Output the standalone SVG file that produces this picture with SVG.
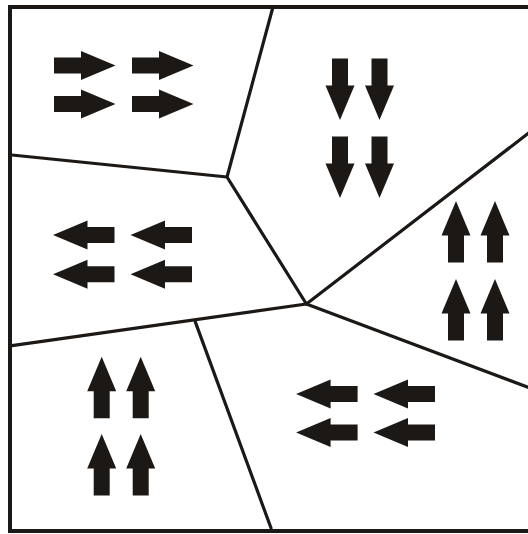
<svg xmlns="http://www.w3.org/2000/svg" xmlns:xlink="http://www.w3.org/1999/xlink" width="528" height="534" viewBox="0 0 528 534">
<style>
.wall{fill:none;stroke:#1c1816;stroke-width:3.2;stroke-linecap:round;stroke-linejoin:round}
.border{fill:none;stroke:#1c1816;stroke-width:4}
.arr{fill:#1c1816}
</style>
<defs>
<path id="a" d="M0,-8 H27 V-14.5 L61.5,0 L27,14.5 V8 H0 Z"/>
</defs>
<rect width="528" height="534" fill="#fff"/>
<g id="connectors">
<path class="border" d="M530,7 H10 V531 H530"/>
<path class="wall" d="M272.7,8 L227,177 L12,155"/>
<path class="wall" d="M227,177 L306.4,304 L530,132"/>
<path class="wall" d="M306.4,304 L530,388"/>
<path class="wall" d="M306.4,304 L12,345.7"/>
<path class="wall" d="M195.3,321.9 L271,528"/>
</g>
<g id="domain-top-left" class="arr">
<use xlink:href="#a" transform="translate(54,65.4)"/>
<use xlink:href="#a" transform="translate(132,65.4)"/>
<use xlink:href="#a" transform="translate(54,103.9)"/>
<use xlink:href="#a" transform="translate(132,103.9)"/>
</g>
<g id="domain-top-middle" class="arr">
<use xlink:href="#a" transform="translate(340,58.5) rotate(90)"/>
<use xlink:href="#a" transform="translate(379.5,58.5) rotate(90)"/>
<use xlink:href="#a" transform="translate(340,136.5) rotate(90)"/>
<use xlink:href="#a" transform="translate(379.5,136.5) rotate(90)"/>
</g>
<g id="domain-middle-left" class="arr">
<use xlink:href="#a" transform="translate(114.5,235) rotate(180)"/>
<use xlink:href="#a" transform="translate(192,235) rotate(180)"/>
<use xlink:href="#a" transform="translate(114.5,274.2) rotate(180)"/>
<use xlink:href="#a" transform="translate(192,274.2) rotate(180)"/>
</g>
<g id="domain-right" class="arr">
<use xlink:href="#a" transform="translate(456,262.5) rotate(-90)"/>
<use xlink:href="#a" transform="translate(495,262.5) rotate(-90)"/>
<use xlink:href="#a" transform="translate(456,340.6) rotate(-90)"/>
<use xlink:href="#a" transform="translate(495,340.6) rotate(-90)"/>
</g>
<g id="domain-bottom-left" class="arr">
<use xlink:href="#a" transform="translate(101.7,418.3) rotate(-90)"/>
<use xlink:href="#a" transform="translate(140.7,418.3) rotate(-90)"/>
<use xlink:href="#a" transform="translate(101.7,495.6) rotate(-90)"/>
<use xlink:href="#a" transform="translate(140.7,495.6) rotate(-90)"/>
</g>
<g id="domain-bottom-right" class="arr">
<use xlink:href="#a" transform="translate(357.6,394) rotate(180)"/>
<use xlink:href="#a" transform="translate(435,394) rotate(180)"/>
<use xlink:href="#a" transform="translate(357.6,432.6) rotate(180)"/>
<use xlink:href="#a" transform="translate(435,432.6) rotate(180)"/>
</g>
</svg>
